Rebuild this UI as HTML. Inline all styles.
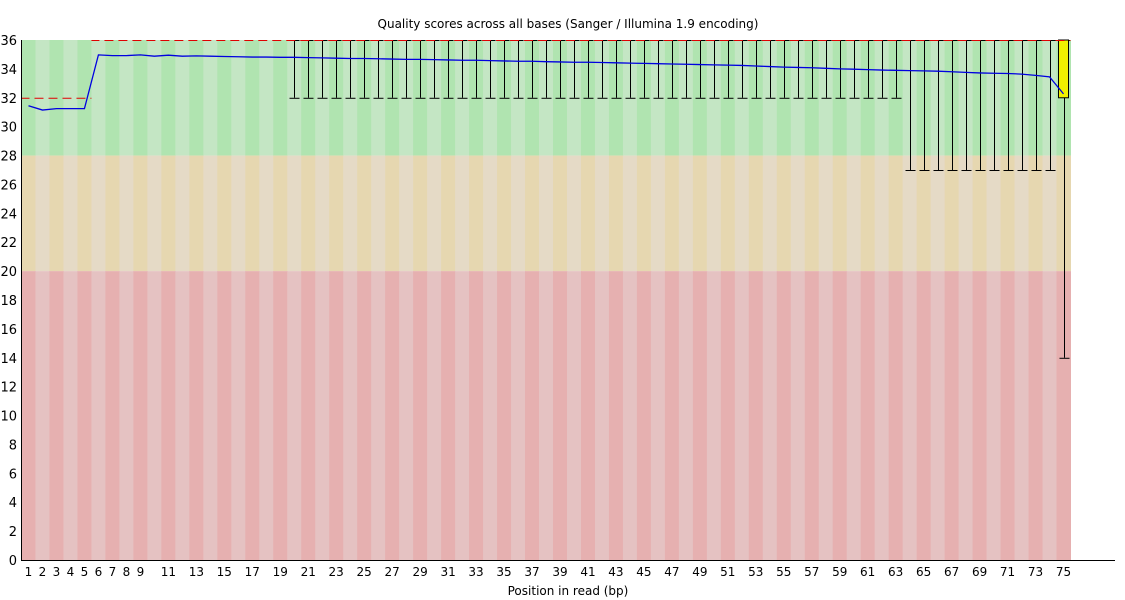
<!DOCTYPE html>
<html><head><meta charset="utf-8"><style>
html,body{margin:0;padding:0;background:#fff;}
svg{display:block;font-family:"DejaVu Sans","Liberation Sans",sans-serif;}
</style></head><body>
<svg id="chart" width="1125" height="600" viewBox="0 0 1125 600"></svg>
<script>
const positions = Array.from({length:75},(_,i)=>i+1);
const meanQuality = [31.45,31.15,31.25,31.25,31.25,34.97,34.92,34.92,34.97,34.88,34.95,34.88,34.9,34.88,34.86,34.84,34.82,34.82,34.8,34.8,34.78,34.76,34.74,34.72,34.72,34.7,34.68,34.66,34.66,34.64,34.62,34.6,34.6,34.57,34.55,34.53,34.53,34.5,34.48,34.46,34.46,34.44,34.42,34.4,34.38,34.36,34.34,34.32,34.3,34.28,34.26,34.24,34.2,34.16,34.12,34.1,34.08,34.04,34.0,33.98,33.95,33.92,33.9,33.88,33.86,33.84,33.8,33.76,33.72,33.7,33.68,33.64,33.55,33.45,32.27];
const medianQuality = [32,32,32,32,32].concat(Array(70).fill(36));
const lowerQuartile = [32,32,32,32,32].concat(Array(69).fill(36),[32]);
const upperQuartile = [32,32,32,32,32].concat(Array(70).fill(36));
const lowerWhisker = [32,32,32,32,32].concat(Array(14).fill(36),Array(44).fill(32),Array(11).fill(27),[14]);
const upperWhisker = Array(75).fill(36).map((v,i)=>i<5?32:36);
const yTicks = [0,2,4,6,8,10,12,14,16,18,20,22,24,26,28,30,32,34,36];
const xTickLabels = [1,2,3,4,5,6,7,8,9,11,13,15,17,19,21,23,25,27,29,31,33,35,37,39,41,43,45,47,49,51,53,55,57,59,61,63,65,67,69,71,73,75];

const svg=document.getElementById('chart');
const NS='http://www.w3.org/2000/svg';
const L=21.5,R=1070.5,T=40,B=560,YMAX=36,N=75;
const cw=(R-L)/N;
const y=v=>B-(v/YMAX)*(B-T);
const xs=p=>L+(p-1)*cw;
const xc=p=>xs(p)+cw/2;
function mk(tag,attrs,parent){const e=document.createElementNS(NS,tag);for(const k in attrs)e.setAttribute(k,attrs[k]);(parent||svg).appendChild(e);return e;}

const bands=[{lo:28,hi:36,c:['#b0e4b0','#c4e6c4']},{lo:20,hi:28,c:['#e6d7b0','#e5dac6']},{lo:0,hi:20,c:['#e6b0b0','#e5c2c2']}];
const gb=mk('g',{});


bands.forEach(b=>{positions.forEach((p,i)=>{
  const r=mk('rect',{x:xs(p),y:y(b.hi),width:cw+0.5,height:y(b.lo)-y(b.hi),fill:b.c[i%2]},gb);
});});

// whiskers and boxes
positions.forEach((p,i)=>{
  const g=mk('g',{});
  
  
  const cx=Math.round(xc(p))+0.5;
  if(lowerWhisker[i]<upperWhisker[i]){
    mk('line',{x1:cx,x2:cx,y1:y(upperWhisker[i]),y2:y(lowerWhisker[i]),stroke:'#000'},g);
    mk('line',{x1:cx-5,x2:cx+5,y1:y(lowerWhisker[i])+0.5,y2:y(lowerWhisker[i])+0.5,stroke:'#000'},g);
    mk('line',{x1:cx-5,x2:cx+5,y1:y(upperWhisker[i])+0.5,y2:y(upperWhisker[i])+0.5,stroke:'#000'},g);
  }
  if(lowerQuartile[i]<upperQuartile[i]){
    mk('rect',{x:xs(p)+2,y:y(upperQuartile[i]),width:cw-4,height:y(lowerQuartile[i])-y(upperQuartile[i]),fill:'#f0f000',stroke:'#000'},g);
  }
});
// median
let md='';
positions.forEach((p,i)=>{md+=`M${xs(p)},${y(medianQuality[i])+0.5}H${xs(p)+cw}`;});
const med=mk('path',{d:md,stroke:'#e00000','stroke-dasharray':'8,5',fill:'none'});


// mean
const mean=mk('polyline',{points:positions.map((p,i)=>xc(p)+','+y(meanQuality[i])).join(' '),stroke:'#0000e0','stroke-width':1.3,fill:'none'});



// axes
const ax=mk('path',{d:`M21.5,${T}V${B+0.5}H1115`,stroke:'#000',fill:'none'});


yTicks.forEach(v=>{
  const t=mk('text',{x:17,y:y(v)+5,'text-anchor':'end','font-size':13,fill:'#000'});
  t.textContent=v;
  
  
});
xTickLabels.forEach(v=>{
  const t=mk('text',{x:xc(v),y:576,'text-anchor':'middle','font-size':12,fill:'#000'});
  t.textContent=v;
  
  
});
const ti=mk('text',{x:568,y:28,'text-anchor':'middle','font-size':12,fill:'#000'});
ti.textContent='Quality scores across all bases (Sanger / Illumina 1.9 encoding)';


const xt=mk('text',{x:568,y:595,'text-anchor':'middle','font-size':12,fill:'#000'});
xt.textContent='Position in read (bp)';


</script>
</body></html>
